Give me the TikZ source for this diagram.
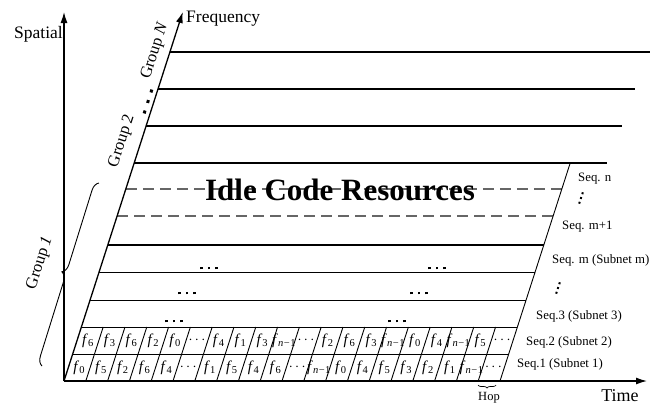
\documentclass[tikz,border=0pt]{standalone}
\usepackage{fontspec}
\setmainfont{Liberation Serif}
\usetikzlibrary{arrows.meta,decorations.pathreplacing,calc}
\newcommand\cellf[1]{\textit{f}\textsubscript{#1}}
\newcommand\cellfn{\textit{f}\textsubscript{\textit{n}\kern0.05em−\kern0.05em1}}
\newcommand\sqdots[3]{\rule{#1}{#1}\hspace{#2}\rule{#1}{#1}\hspace{#2}\rule{#1}{#1}}
\begin{document}
\begin{tikzpicture}[x=1pt,y=-1pt,
  axis/.style={line width=1.3pt,-{Latex[length=11pt,width=7pt]}},
  gline/.style={line width=0.9pt},
  thickline/.style={line width=2.6pt},
  dashline/.style={line width=1.1pt,draw=black!60,dash pattern=on 11pt off 6pt},
  lbl/.style={inner sep=0pt,font=\fontsize{17.5}{18}\selectfont},
  seq/.style={inner sep=0pt,anchor=west,font=\fontsize{12.8}{13}\selectfont},
  grp/.style={inner sep=0pt,rotate=72,font=\fontsize{16.5}{17}\selectfont},
  cell/.style={inner sep=0pt,font=\fontsize{15}{15}\selectfont},
  bdots/.style={inner sep=0pt,anchor=center},
  vdot/.style={inner sep=0pt,rotate=72}]
\useasboundingbox (0,0) rectangle (664,405);
% axes
\coordinate (O) at (64,381);
\coordinate (Stip) at (64,12);
\coordinate (Ttip) at (647,381);
\coordinate (Ftip) at (182.8,12);
% upper group lines
\foreach \y/\xe/\w in {163/607/2.6, 126/622/1.5, 89/635/1.2, 52/650/1.2}
  \draw[line width=\w pt] ({64+(381-\y)*0.322},\y) -- (\xe,\y);
% grid region horizontal lines
\foreach \y in {354,327,300,272}
  \draw[gline] ({64+(381-\y)*0.322},\y) -- ({500+(381-\y)*0.322},\y);
\draw[thickline] ({64+(381-245)*0.322},245) -- ({500+(381-245)*0.322},245);
\foreach \y in {216,189}
  \draw[dashline] ({64+(381-\y)*0.322},\y) -- ({500+(381-\y)*0.322},\y);
% right boundary
\coordinate (RB) at (500,381);
\coordinate (RT) at (570.2,163);
\draw[gline] (RB) -- (RT);
% cell separators
\foreach \k in {1,...,19}
  \draw[gline] ({64+\k*21.8},381) -- ({64+\k*21.8+17.39},327);
% cell labels
\foreach \t [count=\k from 0] in {\cellf{0},\cellf{5},\cellf{2},\cellf{6},\cellf{4},$\cdots$,\cellf{1},\cellf{5},\cellf{4},\cellf{6},$\cdots$,\cellfn,\cellf{0},\cellf{4},\cellf{5},\cellf{3},\cellf{2},\cellf{1},\cellfn,$\cdots$}
  \node[cell] (b\k) at ({64+(\k+0.5)*21.8+4.35},367.5) {\t};
\foreach \t [count=\k from 0] in {\cellf{6},\cellf{3},\cellf{6},\cellf{2},\cellf{0},$\cdots$,\cellf{4},\cellf{1},\cellf{3},\cellfn,$\cdots$,\cellf{2},\cellf{6},\cellf{3},\cellfn,\cellf{0},\cellf{4},\cellfn,\cellf{5},$\cdots$}
  \node[cell] (t\k) at ({64+(\k+0.5)*21.8+13.04},340.5) {\t};
% axes drawn on top
\draw[axis] (O) -- (Stip);
\draw[axis] (O) -- (Ttip);
\draw[axis] (O) -- (Ftip);
% row dots
\node[bdots] (d1a) at (209,268) {\sqdots{2.8pt}{4.6pt}{}};
\node[bdots] (d1b) at (437,268) {\sqdots{2.8pt}{4.6pt}{}};
\node[bdots] (d2a) at (187,293) {\sqdots{2.8pt}{4.6pt}{}};
\node[bdots] (d2b) at (419,293) {\sqdots{2.8pt}{4.6pt}{}};
\node[bdots] (d3a) at (174,321) {\sqdots{2.8pt}{4.6pt}{}};
\node[bdots] (d3b) at (397,321) {\sqdots{2.8pt}{4.6pt}{}};
% idle text
\node[inner sep=0pt,font=\bfseries\fontsize{31}{31}\selectfont] (idle) at (340,190) {Idle Code Resources};
% axis labels
\node[lbl,anchor=east] (spatial) at (63,34) {Spatial};
\node[lbl,anchor=west] (freq) at (186,19) {Frequency};
\node[inner sep=0pt,font=\fontsize{18}{18}\selectfont] (time) at (620,396) {Time};
\node[inner sep=0pt,font=\fontsize{12.5}{13}\selectfont] (hop) at (489,398) {Hop};
\draw[line width=0.7pt,decorate,decoration={brace,amplitude=3pt}] (496,385) -- (478,385);
% seq labels
\node[seq] (sn) at (578,179) {Seq. n};
\node[vdot] (v1) at (581,198) {\sqdots{2pt}{3pt}{}};
\node[seq] (sm1) at (562,227) {Seq. m+1};
\node[seq] (sm) at (552,260) {Seq. m (Subnet m)};
\node[vdot] (v2) at (558,288) {\sqdots{2pt}{3pt}{}};
\node[seq] (s3) at (536,316) {Seq.3 (Subnet 3)};
\node[seq] (s2) at (526,342) {Seq.2 (Subnet 2)};
\node[seq] (s1) at (517,364) {Seq.1 (Subnet 1)};
% groups
\node[grp] (g1) at (40,263) {Group \textit{1}};
\draw[line width=0.9pt,decorate,decoration={brace,amplitude=9pt}] (42,366) -- (99,183);
\node[grp] (g2) at (122,141) {Group 2};
\node[grp] (gd) at (148,101.5) {\sqdots{3pt}{8pt}{}};
\node[grp] (gn) at (155,51) {Group \textit{N}};
\end{tikzpicture}
\end{document}
